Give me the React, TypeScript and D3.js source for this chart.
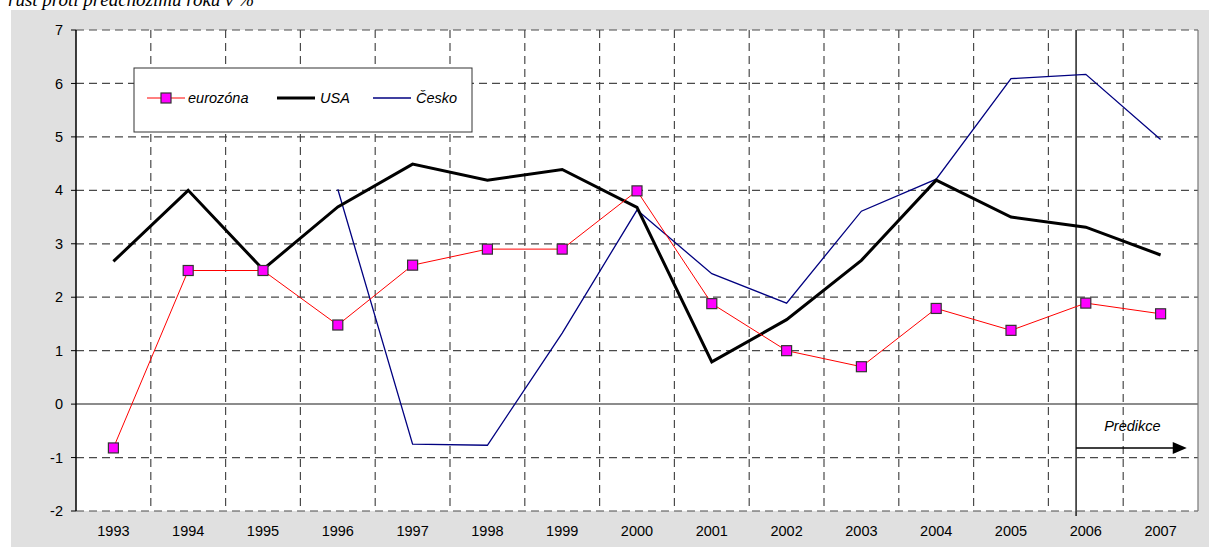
import React from "react";
import * as d3 from "d3";

const years = ["1993","1994","1995","1996","1997","1998","1999","2000","2001","2002","2003","2004","2005","2006","2007"];
const eurozona = [-0.82, 2.5, 2.5, 1.48, 2.6, 2.9, 2.9, 3.99, 1.88, 1.0, 0.7, 1.79, 1.38, 1.89, 1.69];
const usa = [2.67, 4.0, 2.52, 3.69, 4.49, 4.19, 4.39, 3.68, 0.79, 1.58, 2.69, 4.19, 3.5, 3.31, 2.79];
const cesko: (number | null)[] = [null, null, null, 4.02, -0.75, -0.77, 1.33, 3.63, 2.44, 1.89, 3.61, 4.21, 6.09, 6.17, 4.95];
const yTicks = [-2, -1, 0, 1, 2, 3, 4, 5, 6, 7];
const title = "růst proti předchozímu roku v %";

const W = 1209, H = 547;
const L = 76, R = 1198, T = 30, B = 511;

export default function App() {
  const x = d3.scaleBand<string>().domain(years).range([L, R]).padding(0);
  const bw = x.bandwidth();
  const cx = (d: string) => (x(d) as number) + bw / 2;
  const y = d3.scaleLinear().domain([-2, 7]).range([B, T]);

  const lineGen = d3.line<[string, number | null]>()
    .defined(d => d[1] !== null)
    .x(d => cx(d[0]))
    .y(d => y(d[1] as number));

  const ezPath = lineGen(years.map((yr, i) => [yr, eurozona[i]]));
  const usaPath = lineGen(years.map((yr, i) => [yr, usa[i]]));
  const czPath = lineGen(years.map((yr, i) => [yr, cesko[i]]));

  const dash = "8,5";
  const gridColor = "#4a4a4a";
  const font = "Arial, 'Liberation Sans', sans-serif";
  const predX = (x("2006") as number) + bw * 0.37;
  const arrowEnd = (x("2007") as number) + bw * 0.85;
  const arrowY = y(-0.82);

  const legY = 98;
  const ms = 10;
  const fs = 14.5;

  return (
    <svg width={W} height={H} style={{ position: "absolute", left: 0, top: 0 }} fontFamily={font}>
      <rect x={0} y={0} width={W} height={H} fill="#fff" />
      <rect x={11} y={10} width={W - 11} height={H - 10} fill="#e0e0e0" />
      <text x={8} y={6} fontFamily="'Liberation Serif', 'Times New Roman', serif" fontStyle="italic" fontSize={19} fill="#000">{title}</text>
      <rect x={L} y={T} width={R - L} height={B - T} fill="#fff" />
      {yTicks.map(t => (
        t === 0 ? null : (
          <line key={"h" + t} x1={L} x2={R} y1={y(t)} y2={y(t)} stroke={gridColor} strokeWidth={1.2} strokeDasharray={dash} />
        )
      ))}
      {years.slice(1).map(yr => (
        <line key={"v" + yr} x1={x(yr) as number} x2={x(yr) as number} y1={T} y2={B} stroke={gridColor} strokeWidth={1.2} strokeDasharray={dash} />
      ))}
      <line x1={L} x2={R} y1={y(0)} y2={y(0)} stroke="#666" strokeWidth={1.5} />
      <line x1={R} x2={R} y1={T} y2={B} stroke="#777" strokeWidth={1.2} />
      <line x1={L} x2={L} y1={T} y2={B} stroke="#000" strokeWidth={1.5} />
      {yTicks.map(t => (
        <g key={"yt" + t}>
          <line x1={L - 5} x2={L} y1={y(t)} y2={y(t)} stroke="#000" strokeWidth={1} />
          <text x={63} y={y(t)} dy="0.35em" textAnchor="end" fontSize={fs} fill="#000">{t}</text>
        </g>
      ))}
      {years.map(yr => (
        <text key={"xt" + yr} x={cx(yr)} y={536} textAnchor="middle" fontSize={fs} fill="#000">{yr}</text>
      ))}
      <line x1={predX} x2={predX} y1={T} y2={B + 5} stroke="#000" strokeWidth={1.3} />
      <path d={czPath || ""} fill="none" stroke="#000080" strokeWidth={1.3} />
      <path d={usaPath || ""} fill="none" stroke="#000" strokeWidth={3} strokeLinejoin="miter" />
      <path d={ezPath || ""} fill="none" stroke="#ff0000" strokeWidth={1} />
      {years.map((yr, i) => (
        <rect key={"m" + yr} x={cx(yr) - ms / 2} y={y(eurozona[i]) - ms / 2} width={ms} height={ms} fill="#ff00ff" stroke="#333" strokeWidth={1.2} />
      ))}
      <text x={(predX + arrowEnd) / 2 + 1} y={431} textAnchor="middle" fontSize={fs} fontStyle="italic" fill="#000">Predikce</text>
      <line x1={predX} x2={arrowEnd - 12} y1={arrowY} y2={arrowY} stroke="#000" strokeWidth={1.5} />
      <path d={`M${arrowEnd},${arrowY} L${arrowEnd - 14},${arrowY - 6} L${arrowEnd - 14},${arrowY + 6} Z`} fill="#000" />
      <rect x={134} y={68} width={338} height={64} fill="#fff" stroke="#333" strokeWidth={1} />
      <line x1={147} x2={185} y1={legY} y2={legY} stroke="#ff0000" strokeWidth={1} />
      <rect x={166 - ms / 2} y={legY - ms / 2} width={ms} height={ms} fill="#ff00ff" stroke="#333" strokeWidth={1.2} />
      <text x={188} y={legY} dy="0.35em" fontSize={fs} fontStyle="italic" fill="#000">eurozóna</text>
      <line x1={277} x2={315} y1={legY} y2={legY} stroke="#000" strokeWidth={3} />
      <text x={320} y={legY} dy="0.35em" fontSize={fs} fontStyle="italic" fill="#000">USA</text>
      <line x1={373} x2={411} y1={legY} y2={legY} stroke="#000080" strokeWidth={1.3} />
      <text x={416} y={legY} dy="0.35em" fontSize={fs} fontStyle="italic" fill="#000">Česko</text>
    </svg>
  );
}
